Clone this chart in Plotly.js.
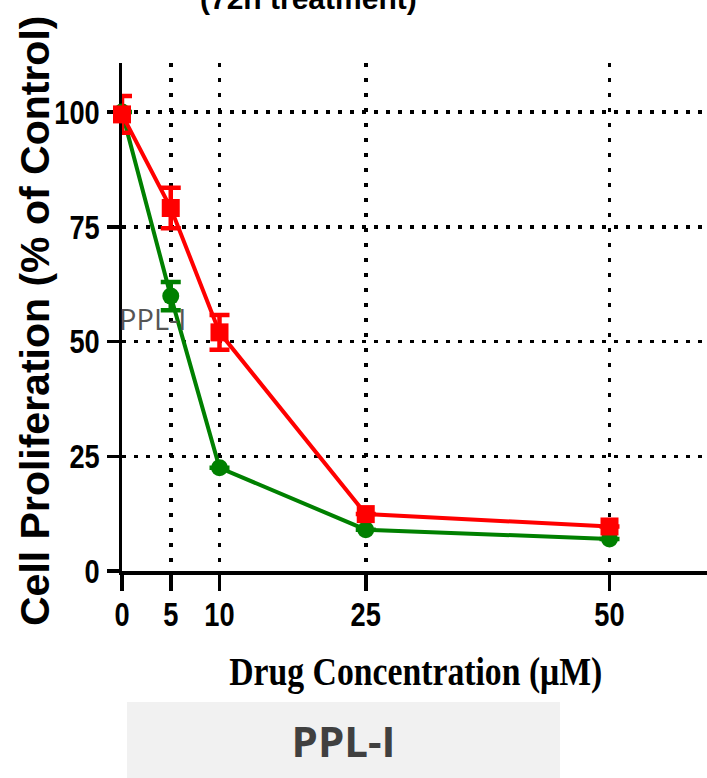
<!DOCTYPE html>
<html>
<head>
<meta charset="utf-8">
<script src="https://cdn.plot.ly/plotly-3.0.1.min.js"></script>
<style>html,body{margin:0;padding:0;background:#fff;}</style>
</head>
<body>
<div id="chart" style="width:707px;height:778px;"></div>
<script>
// ---- data ----
var conc = [0, 5, 10, 25, 50];
var tickLabelsX = ['0', '5', '10', '25', '50'];
var tickValsY = [0, 25, 50, 75, 100];
var tickLabelsY = ['0', '25', '50', '75', '100'];
var redMean = [99.5, 79.1, 52.0, 12.4, 9.7];
var redErr = [4.0, 4.4, 3.8, null, null];      // null: error bar hidden inside marker
var greenMean = [100, 59.9, 22.5, 9.0, 7.0];
var greenErr = [null, 3.1, null, null, null];
var titleText = '(72h treatment)';
var xTitle = 'Drug Concentration (\u03bcM)';
var yTitle = 'Cell Proliferation (% of Control)';
var seriesLabel = 'PPL-I';

// ---- layout helpers (pixel -> paper) ----
var W = 707, H = 778, L = 122, R = 0, T = 63, B = 207;
var pw = W - L - R, ph = H - T - B;
function px(p) { return (p - L) / pw; }
function py(p) { return (H - B - p) / ph; }

var tickFont = {family: '"Liberation Sans", Arial, sans-serif', size: 34, color: '#000', weight: 700};

var traces = [
  {
    x: conc, y: greenMean, type: 'scatter', mode: 'lines+markers', name: 'green',
    cliponaxis: false,
    line: {color: '#008000', width: 4},
    marker: {color: '#008000', size: 17, symbol: 'circle'},
    error_y: {type: 'data', array: greenErr, visible: true, color: '#008000', thickness: 4.5, width: 10}
  },
  {
    x: conc, y: redMean, type: 'scatter', mode: 'lines+markers', name: 'red',
    cliponaxis: false,
    line: {color: '#ff0000', width: 4},
    marker: {color: '#ff0000', size: 18, symbol: 'square'},
    error_y: {type: 'data', array: redErr, visible: true, color: '#ff0000', thickness: 4.5, width: 10}
  }
];

var layout = {
  width: W, height: H,
  margin: {l: L, r: R, t: T, b: B, pad: 0},
  paper_bgcolor: '#fff', plot_bgcolor: '#fff',
  showlegend: false,
  xaxis: {
    range: [0, 60], tickmode: 'array', tickvals: conc, ticktext: tickLabelsX,
    showline: true, linecolor: '#000', linewidth: 3.5,
    ticks: 'outside', ticklen: 16, tickwidth: 3.5, tickcolor: '#000',
    showgrid: true, gridcolor: '#000', gridwidth: 3.5, griddash: '3.5px,11.5px',
    zeroline: false, tickfont: tickFont, layer: 'below traces', ticklabelstandoff: -5
  },
  yaxis: {
    range: [0, 110.7], tickmode: 'array', tickvals: tickValsY, ticktext: tickLabelsY,
    showline: true, linecolor: '#000', linewidth: 3.5,
    ticks: 'outside', ticklen: 12, tickwidth: 3.5, tickcolor: '#000',
    showgrid: true, gridcolor: '#000', gridwidth: 3.5, griddash: '3.5px,8.5px',
    zeroline: false, tickfont: tickFont, layer: 'below traces'
  },
  annotations: [
    {text: titleText, xref: 'paper', yref: 'paper', x: px(308), y: py(17),
     xanchor: 'center', yanchor: 'bottom', showarrow: false,
     font: {family: '"Liberation Sans", Arial, sans-serif', size: 30, color: '#000', weight: 700}},
    {text: yTitle, xref: 'paper', yref: 'paper', x: px(35), y: py(321),
     xanchor: 'center', yanchor: 'middle', showarrow: false, textangle: -90,
     font: {family: '"Liberation Sans", Arial, sans-serif', size: 41, color: '#000', weight: 700}},
    {text: xTitle, xref: 'paper', yref: 'paper', x: px(416), y: py(672),
     xanchor: 'center', yanchor: 'middle', showarrow: false,
     font: {family: '"Liberation Serif", "Times New Roman", serif', size: 39, color: '#000', weight: 700}},
    {text: seriesLabel, xref: 'paper', yref: 'paper', x: px(152), y: py(318),
     xanchor: 'center', yanchor: 'middle', showarrow: false,
     font: {family: '"Open Sans", sans-serif', size: 29, color: '#555555'}},
    {text: '<b>' + seriesLabel + '</b>', xref: 'paper', yref: 'paper', x: px(343.5), y: py(740),
     xanchor: 'center', yanchor: 'middle', showarrow: false,
     width: 433, height: 76, borderpad: 0, borderwidth: 0, bgcolor: '#f1f1f1',
     font: {family: '"Open Sans", sans-serif', size: 42, color: '#404040'}}
  ]
};

// horizontally condense a text element while keeping its anchor point (right or center)
function condense(el, ratio, fixed, keep) {
  var len = el.getComputedTextLength();
  if (!len) return;
  var b0 = el.getBBox();
  var target = fixed ? fixed : len * ratio;
  el.setAttribute('textLength', target);
  el.setAttribute('lengthAdjust', 'spacingAndGlyphs');
  var b1 = el.getBBox();
  var dx = keep === 'right' ? (b0.x + b0.width) - (b1.x + b1.width)
                            : (b0.x + b0.width / 2) - (b1.x + b1.width / 2);
  if (Math.abs(dx) > 0.5) {
    var x = parseFloat(el.getAttribute('x') || '0');
    el.setAttribute('x', x + dx);
  }
}

Plotly.newPlot('chart', traces, layout, {displayModeBar: false, staticPlot: true}).then(function (gd) {
  gd.querySelectorAll('g.xtick text').forEach(function (t) { condense(t, 0.8, 0, 'center'); });
  gd.querySelectorAll('g.ytick text').forEach(function (t) { condense(t, 0.8, 0, 'right'); });
  gd.querySelectorAll('g.annotation text.annotation-text').forEach(function (t) {
    if (t.textContent === xTitle) condense(t, 1, 373, 'center');
  });
});
</script>
</body>
</html>
